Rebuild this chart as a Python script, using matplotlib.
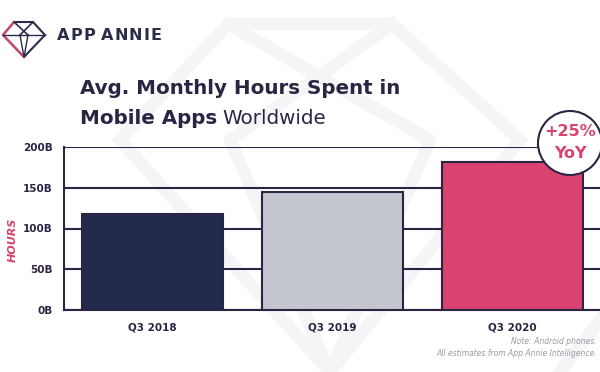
import matplotlib
matplotlib.use("Agg")
import matplotlib.pyplot as plt
from matplotlib.patches import Circle, Polygon

categories = ["Q3 2018", "Q3 2019", "Q3 2020"]
hours_b = [118, 145, 181]
yticks = [0, 50, 100, 150, 200]
ytick_labels = ["0B", "50B", "100B", "150B", "200B"]
bar_colors = ["#222a4b", "#c3c5cf", "#d8436f"]

DARK = "#2b2443"
PINK = "#d8436f"

W, H = 600, 372
fig = plt.figure(figsize=(6, 3.72), dpi=100)
fig.patch.set_facecolor("white")

def fx(x):
    return x / W

def fy(y):
    return 1 - y / H

# faint watermark (large diamond)
wm = fig.add_axes([0, 0, 1, 1], zorder=0)
wm.set_xlim(0, W); wm.set_ylim(H, 0); wm.axis("off")
wm_col = "#f5f5f8"
wm.add_patch(Polygon([(120, 140), (228, 24), (392, 24), (520, 140), (330, 372)], closed=True,
                     facecolor="none", edgecolor=wm_col, lw=9))
wm.plot([228, 430, 330, 230, 392], [24, 140, 372, 140, 24], color=wm_col, lw=9)
wm.plot([560, 600], [372, 320], color=wm_col, lw=9)

ax = fig.add_axes([fx(64), fy(310), fx(601 - 64), (310 - 147) / H], zorder=2)
ax.set_facecolor("none")
x = range(len(categories))
ax.bar(x, hours_b, width=0.78, color=bar_colors, edgecolor=DARK, linewidth=1.5, zorder=3)
ax.set_xlim(-0.49, 2.49)
ax.set_ylim(0, 200)
ax.set_yticks(yticks)
ax.set_yticklabels(ytick_labels)
ax.yaxis.grid(True, color=DARK, linewidth=1.5, zorder=1)
ax.set_axisbelow(True)
for s in ["top", "right"]:
    ax.spines[s].set_visible(False)
for s in ["left", "bottom"]:
    ax.spines[s].set_color(DARK)
    ax.spines[s].set_linewidth(1.5)
ax.tick_params(axis="both", length=0, pad=8, labelsize=7.5, labelcolor=DARK)
ax.set_xticks(list(x))
ax.set_xticklabels(categories)
for lab in ax.get_xticklabels() + ax.get_yticklabels():
    lab.set_fontweight("bold")
ax.tick_params(axis="x", pad=9)

# overlay for circle, texts
ov = fig.add_axes([0, 0, 1, 1], zorder=5)
ov.set_xlim(0, W); ov.set_ylim(H, 0); ov.axis("off")
ov.add_patch(Circle((570, 143), 32, facecolor="white", edgecolor=DARK, lw=1.5))
ov.text(570, 132, "+25%", color=PINK, fontsize=11.5, fontweight="bold", ha="center", va="center")
ov.text(570, 154, "YoY", color=PINK, fontsize=11.5, fontweight="bold", ha="center", va="center")

ov.text(13, 240, "HOURS", color=PINK, fontsize=8, fontweight="bold", fontstyle="italic",
        rotation=90, ha="center", va="center")

ov.text(80, 89, "Avg. Monthly Hours Spent in", color=DARK, fontsize=14.3, fontweight="bold",
        ha="left", va="center")
t = ov.text(80, 118, "Mobile Apps", color=DARK, fontsize=14.3, fontweight="bold",
            ha="left", va="center")
fig.canvas.draw()
bb = t.get_window_extent()
ov.text(bb.x1 + 5, 118, "Worldwide", color=DARK, fontsize=14.3, fontweight="normal",
        ha="left", va="center")

ov.text(597, 342, "Note: Android phones.", color="#9a9aa4", fontsize=5.5, fontstyle="italic",
        ha="right", va="center")
ov.text(597, 353, "All estimates from App Annie Intelligence.", color="#9a9aa4", fontsize=5.5,
        fontstyle="italic", ha="right", va="center")

# logo text with letter spacing
logo = "APP ANNIE"
xpos = 57
renderer = fig.canvas.get_renderer()
for ch in logo:
    tt = ov.text(xpos, 36, ch, color="#2a2c4a", fontsize=11.5, fontweight="semibold",
                 ha="left", va="center")
    if ch == " ":
        xpos += 5
    else:
        w = tt.get_window_extent(renderer).width
        xpos += w + 1.0

# logo icon
NAV = "#2a2c4a"
ov.add_patch(Polygon([(3, 35), (14, 22), (33, 22), (45, 35), (24, 57)], closed=True,
                     facecolor="none", edgecolor=NAV, lw=1.5))
ov.plot([14, 3, 24], [22, 35, 57], color=PINK, lw=1.5)
ov.plot([14, 28], [22, 35], color=NAV, lw=1.2)
ov.plot([33, 20], [22, 35], color=NAV, lw=1.2)
ov.plot([3, 45], [35, 35], color=NAV, lw=1.0)
ov.plot([20, 24, 28], [35, 57, 35], color=NAV, lw=1.0)

fig.savefig("out.png", dpi=100, facecolor="white")
